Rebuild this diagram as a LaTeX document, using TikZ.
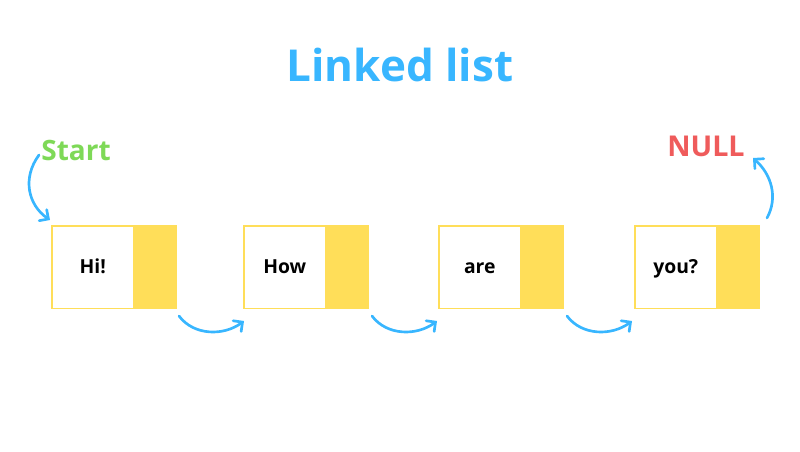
\documentclass[tikz,border=0pt]{standalone}
\usepackage{fontspec}
\setmainfont{Open Sans}
\usetikzlibrary{arrows.meta}
\definecolor{tblue}{HTML}{38B6FF}
\definecolor{tgreen}{HTML}{7ED957}
\definecolor{tred}{HTML}{EF5B5B}
\definecolor{tyellow}{HTML}{FFDE59}
\begin{document}
\begin{tikzpicture}[x=0.75pt,y=-0.75pt,
  datacell/.style={fill=white,minimum width=81*0.75pt,minimum height=82*0.75pt,inner sep=0pt,font=\bfseries\fontsize{14.5}{16}\selectfont,text height=11pt,text depth=1pt},
  ptrcell/.style={fill=tyellow,minimum width=43*0.75pt,minimum height=82*0.75pt,inner sep=0pt},
  link/.style={draw=tblue,line width=2pt,line cap=round,-{Straight Barb[length=5pt,width=10pt,line cap=round]}}]
\useasboundingbox (0,0) rectangle (800,452);
\node[font=\bfseries\fontsize{33}{38}\selectfont,text=tblue] (title) at (400,65) {Linked list};
\node[font=\bfseries\fontsize{21}{24}\selectfont,text=tgreen] (start) at (76,151) {Start};
\node[font=\bfseries\fontsize{21.5}{24}\selectfont,text=tred] (null) at (706,146) {NULL};
\foreach \n/\x/\t in {1/52/Hi!,2/244/How,3/439/are,4/635/you?}{
  \node[datacell,anchor=north west] (d\n) at (\x,226) {\t};
  \node[ptrcell,anchor=north west] (p\n) at (\x+81,226) {};
  \draw[tyellow,line width=1pt] (d\n.north west) rectangle (p\n.south east);
}
\coordinate (s0) at (39,155);
\coordinate (s1) at (50,220);
\draw[link] (s0) .. controls (22,178) and (28,205) .. (s1);
\coordinate (n0) at (767,218);
\coordinate (n1) at (753,158);
\draw[link] (n0) .. controls (778,198) and (772,175) .. (n1);
\foreach \a/\b/\x in {1/2/179,2/3/372,3/4/567}{
  \coordinate (a\a) at (\x,316);
  \coordinate (b\a) at (\x+65,321);
  \draw[link] (a\a) .. controls (\x+15,336) and (\x+45,336) .. (b\a);
}
\end{tikzpicture}
\end{document}
